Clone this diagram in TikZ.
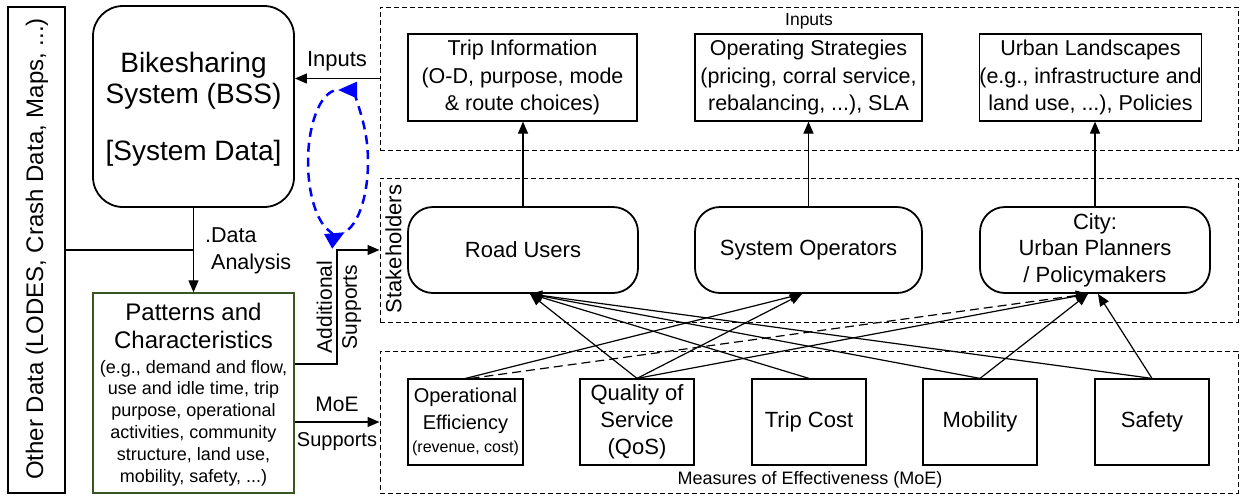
\documentclass[tikz,border=0pt]{standalone}
\usepackage{fontspec}
\setmainfont{Liberation Sans}
\usetikzlibrary{arrows.meta,calc}
\definecolor{pgreen}{RGB}{56,87,35}
\definecolor{eblue}{RGB}{0,0,255}
\newcommand\fsz[2]{\fontsize{#1}{#2}\selectfont}
\begin{document}
\begin{tikzpicture}[x=1pt,y=-1pt,
  lbl/.style={inner sep=0pt, align=center},
  ibox/.style={draw, line width=1.2pt, inner sep=0pt, align=center, minimum height=87pt, font=\fsz{21.5}{27.3}},
  rbox/.style={draw, line width=1.8pt, rounded corners=25pt, inner sep=0pt, align=center, minimum width=230pt, minimum height=86pt, font=\fsz{22}{26.5}},
  mbox/.style={draw, line width=1.2pt, inner sep=0pt, align=center, minimum width=114pt, minimum height=86pt, font=\fsz{22}{27}},
  cont/.style={draw, line width=1pt, dash pattern=on 5pt off 3pt, inner sep=0pt},
  plain/.style={line width=1.2pt},
  conn/.style={line width=1.2pt, -{Triangle[length=12pt,width=10pt]}},
  loopar/.style={draw=eblue, line width=2.5pt, dash pattern=on 9pt off 6pt, -{Triangle[length=19pt,width=16pt,fill=eblue]}}
]
\useasboundingbox (0,0) rectangle (1240,496);

% containers
\node[cont, minimum width=858pt, minimum height=143pt] (inpc) at (809,78.5) {};
\node[cont, minimum width=858pt, minimum height=144pt] (stc) at (809,250) {};
\node[cont, minimum width=858pt, minimum height=142pt] (moec) at (809,422) {};
\node[lbl, font=\fsz{17.5}{20}] (inplbl) at (809,21) {Inputs};
\node[lbl, font=\fsz{22}{26}, rotate=90] (stlbl) at (393.5,249) {Stakeholders};
\node[lbl, font=\fsz{18}{21}] (moelbl) at (810,480) {Measures of Effectiveness (MoE)};

% left column
\node[draw, line width=1.5pt, minimum width=57pt, minimum height=486pt, inner sep=0pt] (od) at (36.5,250) {};
\node[lbl, font=\fsz{24}{28}, rotate=90] (odtxt) at (37,249) {Other Data (LODES, Crash Data, Maps, ...)};
\node[draw, line width=1.8pt, rounded corners=30pt, minimum width=201pt, minimum height=201pt, inner sep=0pt] (bss) at (193.5,106.5) {};
\node[lbl, font=\fsz{28}{31}] (bsstxt) at (193.5,109) {Bikesharing\\System (BSS)\\[26pt]{[System Data]}};
\node[draw=pgreen, line width=1.3pt, minimum width=201pt, minimum height=200pt, inner sep=0pt] (pat) at (193.5,393) {};
\node[lbl, font=\fsz{24}{28}] (pattitle) at (193.5,325.5) {Patterns and\\Characteristics};
\node[lbl, font=\fsz{18}{21.8}] (patbody) at (193.5,423) {(e.g., demand and flow,\\use and idle time, trip\\purpose, operational\\activities, community\\structure, land use,\\mobility, safety, ...)};

% inputs
\node[ibox, minimum width=229pt] (trip) at (522.5,77.5) {Trip Information\\(O-D, purpose, mode\\\& route choices)};
\node[ibox, minimum width=227pt] (ops) at (808.5,77.5) {Operating Strategies\\(pricing, corral service,\\rebalancing, ...), SLA};
\node[ibox, minimum width=219pt] (urban) at (1090.5,77.5) {Urban Landscapes\\(e.g., infrastructure and\\land use, ...), Policies};

% stakeholders
\node[rbox] (ru) at (523,250) {Road Users};
\node[rbox, minimum width=227pt] (so) at (808.5,250) {System Operators};
\node[rbox] (city) at (1095,250) {City:\\Urban Planners\\/ Policymakers};

% MoE
\node[mbox, minimum width=115pt, font=\fsz{20}{26.5}] (oe) at (465.5,422) {Operational\\Efficiency\\[-3.5pt]{\fsz{16}{19}(revenue, cost)}};
\node[mbox] (qos) at (637,422) {Quality of\\Service\\(QoS)};
\node[mbox] (tc) at (809,422) {Trip Cost};
\node[mbox] (mob) at (980,422) {Mobility};
\node[mbox] (saf) at (1152,422) {Safety};

% connectors left
\draw[conn] (inpc.west) -- (bss.east |- inpc.west);
\node[lbl, font=\fsz{22}{26}] (inlbl) at (337,61) {Inputs};
\draw[plain] (od.east) -- (bss.south |- od.east);
\draw[conn] (bss.south) -- (pat.north);
\node[lbl, font=\fsz{21.5}{27}, align=left, anchor=west] (dalbl) at (205,251) {.Data\\\phantom{.}Analysis};
\coordinate (asx) at (337,307);
\draw[conn] (pat.east |- 0,364) -| (asx) |- (stc.west);
\node[lbl, font=\fsz{21}{25}, rotate=90] (aslbl) at (339,307) {Additional\\Supports};
\draw[conn] (pat.east |- moec.west) -- (moec.west);
\node[lbl, font=\fsz{21}{25}] (moel1) at (337,404) {MoE};
\node[lbl, font=\fsz{20}{24}] (moel2) at (337,442) {Supports};

% feedback loop
\coordinate (lc) at (338,162);
\draw[loopar] ([shift={(-70:30pt and 72pt)}]lc) arc[start angle=-70, end angle=90, x radius=30pt, y radius=72pt];
\draw[loopar] ([shift={(98:30pt and 72pt)}]lc) arc[start angle=98, end angle=283, x radius=30pt, y radius=72pt];

% stakeholders -> inputs
\draw[conn] (ru.north) -- (ru.north |- trip.south);
\draw[conn] (so.north) -- (so.north |- ops.south);
\draw[conn] (city.north) -- (city.north |- urban.south);

% MoE -> stakeholders
\draw[conn] (oe.north) -- ([xshift=-6.5pt]so.south);
\draw[conn, dash pattern=on 9pt off 5pt] ([xshift=5pt]oe.north) -- ([xshift=-7pt]city.south);
\draw[conn] (qos.north) -- ([xshift=7pt]ru.south);
\draw[conn] (qos.north) -- ([xshift=-6.5pt]so.south);
\draw[conn] (qos.north) -- ([xshift=-7pt]city.south);
\draw[conn] (tc.north) -- ([xshift=7pt]ru.south);
\draw[conn] (mob.north) -- ([xshift=7pt]ru.south);
\draw[conn] (mob.north) -- ([xshift=-7pt]city.south);
\draw[conn] (saf.north) -- ([xshift=7pt]ru.south);
\draw[conn] (saf.north) -- ([xshift=3pt]city.south);
\end{tikzpicture}
\end{document}
